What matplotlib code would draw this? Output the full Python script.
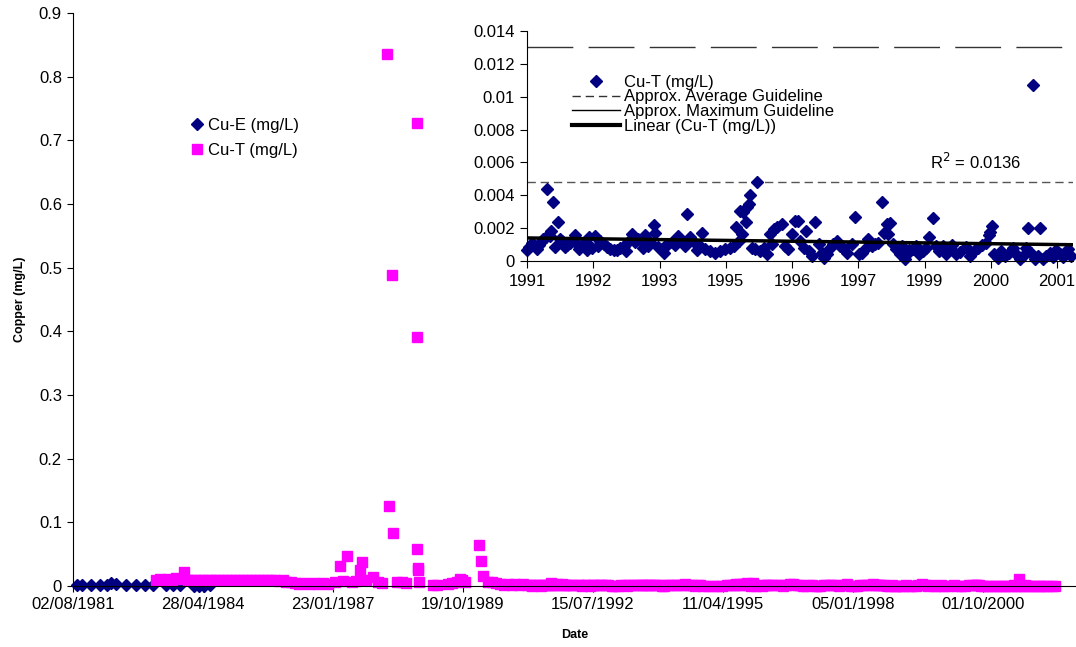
import numpy as np
import pandas as pd
import matplotlib
matplotlib.use("Agg")
import matplotlib.pyplot as plt
import matplotlib.dates as mdates
from matplotlib.lines import Line2D
from matplotlib.ticker import FuncFormatter

plt.rcParams['font.family'] = ['Liberation Sans', 'DejaVu Sans']

# ---- data (dates as decimal years) ----
cu_e_years = [1981.67, 1981.78, 1981.96, 1982.16, 1982.31, 1982.38, 1982.48, 1982.69,
              1982.91, 1983.11, 1983.27, 1983.55, 1983.69, 1983.84, 1984.13, 1984.24,
              1984.35, 1984.46]
cu_e_vals = [0.001, 0.0008, 0.001, 0.0012, 0.002, 0.004, 0.003, 0.0015,
             0.002, 0.0012, 0.0018, 0.001, 0.0015, 0.001, 0.0006, 0.0005,
             0.0004, 0.0008]

cu_t_early_years = [
    1983.33, 1983.42, 1983.50, 1983.58, 1983.67, 1983.75, 1983.83, 1983.92, 1984.00, 1984.08,
    1984.17, 1984.25, 1984.33, 1984.42, 1984.50, 1984.58, 1984.67, 1984.75, 1984.83, 1984.92,
    1985.00, 1985.08, 1985.17, 1985.25, 1985.33, 1985.42, 1985.50, 1985.58, 1985.67, 1985.75,
    1985.83, 1985.92, 1986.00, 1986.08, 1986.17,
    1986.25, 1986.35, 1986.45, 1986.55, 1986.65, 1986.75, 1986.85, 1986.95,
    1987.10, 1987.21, 1987.27, 1987.35, 1987.46, 1987.54, 1987.63, 1987.67, 1987.75, 1987.90,
    1988.01, 1988.09, 1988.20, 1988.24, 1988.30, 1988.32, 1988.41, 1988.51, 1988.60,
    1988.82, 1988.83, 1988.84, 1988.85, 1988.86, 1988.87,
    1989.17, 1989.25, 1989.48, 1989.56, 1989.67, 1989.73, 1989.78, 1989.84,
    1990.13, 1990.18, 1990.22, 1990.32, 1990.41, 1990.49, 1990.58, 1990.66, 1990.74, 1990.82,
    1990.90, 1990.98, 1991.06, 1991.14, 1991.20]
cu_t_early_vals = [
    0.010, 0.011, 0.010, 0.011, 0.010, 0.012, 0.011, 0.022, 0.010, 0.009,
    0.010, 0.009, 0.010, 0.009, 0.010, 0.009, 0.010, 0.009, 0.010, 0.009,
    0.010, 0.009, 0.010, 0.009, 0.010, 0.009, 0.010, 0.009, 0.010, 0.009,
    0.010, 0.008, 0.009, 0.006, 0.007,
    0.004, 0.003, 0.004, 0.003, 0.004, 0.003, 0.004, 0.003,
    0.006, 0.031, 0.008, 0.047, 0.006, 0.008, 0.025, 0.037, 0.010, 0.014,
    0.006, 0.004, 0.835, 0.126, 0.489, 0.083, 0.007, 0.006, 0.005,
    0.728, 0.391, 0.058, 0.0285, 0.025, 0.006,
    0.0015, 0.002, 0.003, 0.004, 0.006, 0.011, 0.009, 0.006,
    0.064, 0.040, 0.015, 0.007, 0.007, 0.004, 0.003, 0.002, 0.003, 0.002,
    0.003, 0.002, 0.003, 0.002, 0.002]

# Cu-T from 1991 onward, in 0.001 mg/L
cu_t_late_years = [
    1991.25, 1991.29, 1991.35, 1991.40, 1991.45, 1991.48, 1991.53, 1991.58, 1991.63, 1991.65,
    1991.72, 1991.74, 1991.78, 1991.82, 1991.88, 1991.92, 1991.95, 1992.01, 1992.05, 1992.12,
    1992.21, 1992.26, 1992.30, 1992.36, 1992.42, 1992.47, 1992.51, 1992.56, 1992.63, 1992.68,
    1992.73, 1992.80, 1992.86, 1992.93, 1993.00, 1993.07, 1993.13, 1993.20, 1993.25, 1993.30,
    1993.37, 1993.44, 1993.50, 1993.57, 1993.60, 1993.64, 1993.69, 1993.74, 1993.81, 1993.84,
    1993.90, 1993.98, 1994.02, 1994.04, 1994.11, 1994.18, 1994.25, 1994.31, 1994.38, 1994.45,
    1994.48, 1994.55, 1994.62, 1994.69, 1994.75, 1994.79,
    1994.85, 1994.96, 1995.06, 1995.16, 1995.26, 1995.36, 1995.43, 1995.48, 1995.53, 1995.55,
    1995.60, 1995.62, 1995.68, 1995.70, 1995.75, 1995.77, 1995.80, 1995.87, 1995.91, 1995.97,
    1996.04, 1996.10, 1996.17, 1996.21, 1996.25, 1996.31, 1996.41, 1996.47, 1996.54, 1996.61,
    1996.68, 1996.74, 1996.78, 1996.85, 1996.90, 1996.95, 1997.02, 1997.08, 1997.15, 1997.22,
    1997.26, 1997.32, 1997.39, 1997.45, 1997.52, 1997.59, 1997.65, 1997.72, 1997.82, 1997.89,
    1997.96, 1998.03, 1998.09, 1998.16, 1998.23, 1998.30, 1998.36, 1998.43, 1998.47, 1998.53,
    1998.55, 1998.60, 1998.65, 1998.72, 1998.79, 1998.84, 1998.89, 1998.94, 1998.99, 1999.06,
    1999.13, 1999.19, 1999.26, 1999.33, 1999.39, 1999.47, 1999.52, 1999.59, 1999.66, 1999.73,
    1999.80, 1999.86, 1999.93, 2000.02, 2000.13, 2000.21, 2000.29, 2000.38, 2000.46, 2000.54,
    2000.61, 2000.63, 2000.67, 2000.71, 2000.78, 2000.85, 2000.92, 2001.00, 2001.08, 2001.15,
    2001.22, 2001.29, 2001.35, 2001.39, 2001.46, 2001.50, 2001.53, 2001.60, 2001.64, 2001.70,
    2001.76, 2001.83, 2001.90, 2001.96, 2002.03, 2002.10, 2002.20, 2002.27]
cu_t_late_vals = [
    0.68, 0.84, 1.10, 0.90, 0.74, 0.98, 1.14, 1.34, 1.44, 4.40,
    1.54, 1.84, 3.60, 0.84, 2.40, 1.34, 1.24, 0.84, 0.98, 1.10,
    1.60, 1.04, 0.74, 0.98, 1.14, 0.70, 1.44, 0.80, 1.54, 0.94,
    1.24, 1.04, 0.84, 0.74, 0.64, 0.64, 0.80, 0.94, 0.60, 1.14,
    1.64, 1.14, 1.34, 1.24, 0.80, 1.60, 0.94, 1.14, 2.20, 1.68,
    0.84, 0.74, 0.50, 0.94, 1.04, 1.14, 1.00, 1.50, 1.14, 0.94,
    2.84, 1.44, 1.14, 0.68, 0.94, 1.68,
    0.71, 0.61, 0.51, 0.61, 0.71, 0.82, 0.92, 2.04, 1.22, 3.06,
    1.63, 2.96, 2.35, 3.30, 3.47, 4.04, 0.82, 0.71, 4.80, 0.61,
    0.82, 0.41, 1.63, 1.02, 1.94, 2.08, 2.24, 0.92, 0.71, 1.63,
    2.45, 2.41, 1.22, 0.82, 1.84, 0.61, 0.31, 2.35, 1.02, 0.51,
    0.16, 0.41, 0.82, 1.02, 1.23, 0.92, 0.82, 0.51, 1.02, 2.65,
    0.41, 0.51, 0.72, 1.33, 0.92, 1.02, 1.12, 3.57, 1.73, 2.24,
    1.67, 2.29, 1.06, 0.76, 0.45, 0.92, 0.14, 0.45, 0.66, 0.71,
    0.91, 0.40, 0.61, 0.77, 1.47, 2.59, 0.91, 0.61, 0.91, 0.40,
    0.71, 0.97, 0.40, 0.57, 0.85, 0.30, 0.61, 0.77, 0.97, 1.12,
    1.57, 1.78, 2.12, 0.40, 0.20, 0.61, 0.30, 0.51, 0.77, 0.40,
    0.15, 0.30, 0.77, 1.98, 0.51, 10.70, 0.14, 0.30, 1.98, 0.14,
    0.30, 0.51, 0.25, 0.65, 0.40, 0.25, 0.71, 0.30]

avg_guideline = 0.0048
max_guideline = 0.013
r2_label = "R$^2$ = 0.0136"

navy = '#000080'
magenta = '#FF00FF'


def to_dates(years):
    out = []
    for y in years:
        yi = int(y)
        out.append(pd.Timestamp(yi, 1, 1) + pd.Timedelta(days=(y - yi) * 365.25))
    return pd.DatetimeIndex(out)


cu_e_dates = to_dates(cu_e_years)
late_mgl = np.array(cu_t_late_vals) / 1000.0
cu_t_dates = to_dates(cu_t_early_years + cu_t_late_years)
cu_t_vals = np.concatenate([cu_t_early_vals, late_mgl])
late_dates = to_dates(cu_t_late_years)

W, H = 1076, 647
fig = plt.figure(figsize=(W / 100, H / 100), dpi=100)

# ---- main chart ----
ax = fig.add_axes([73 / W, 61 / H, 1003 / W, 573 / H])
ax.plot(cu_e_dates, cu_e_vals, 'D', color=navy, ms=6, ls='none', clip_on=False,
        label='Cu-E (mg/L)')
ax.plot(cu_t_dates, cu_t_vals, 's', color=magenta, ms=7, ls='none', clip_on=False,
        label='Cu-T (mg/L)')

main_start = pd.Timestamp('1981-08-02')
ax.set_xlim(main_start, main_start + pd.Timedelta(days=7715))
ax.set_ylim(0, 0.9)
ax.set_yticks(np.arange(0, 0.91, 0.1))
ax.yaxis.set_major_formatter(FuncFormatter(lambda v, p: f'{v:g}'))
ax.set_xticks(mdates.date2num(pd.date_range(main_start, periods=8, freq='1000D')))
ax.xaxis.set_major_formatter(mdates.DateFormatter('%d/%m/%Y'))
ax.tick_params(direction='out', length=4, labelsize=12, color='black', pad=4)
for s in ['top', 'right']:
    ax.spines[s].set_visible(False)
ax.set_ylabel('Copper (mg/L)', fontsize=9, fontweight='bold')
ax.set_xlabel('Date', fontsize=9, fontweight='bold')
ax.yaxis.set_label_coords(-0.047, 0.5)
ax.xaxis.set_label_coords(0.5, -0.075)
ax.legend(loc='upper left', bbox_to_anchor=(190 / W, 1 - 118 / H),
          bbox_transform=fig.transFigure, frameon=False, fontsize=12,
          handlelength=0.8, handletextpad=0.3, labelspacing=0.62,
          borderpad=0, borderaxespad=0)

# ---- inset chart ----
axi = fig.add_axes([527 / W, 1 - 261 / H, 546 / W, 230 / H])
axi.set_facecolor('white')
inset_start = pd.Timestamp('1991-04-01')
axi.set_xlim(inset_start, inset_start + pd.Timedelta(days=4038))
axi.set_ylim(0, 0.014)
axi.set_yticks(np.arange(0, 0.01401, 0.002))
axi.yaxis.set_major_formatter(FuncFormatter(lambda v, p: f'{v:g}'))
axi.set_xticks(mdates.date2num(pd.date_range(inset_start, periods=9, freq='490D')))
axi.xaxis.set_major_formatter(mdates.DateFormatter('%Y'))
axi.tick_params(direction='out', length=5, labelsize=12, pad=4)
for s in ['top', 'right']:
    axi.spines[s].set_visible(False)

axi.axhline(max_guideline, color='#333333', lw=1, dashes=(33, 11))
axi.axhline(avg_guideline, color='#555555', lw=1, dashes=(6, 3.5))
axi.plot(late_dates, late_mgl, 'D', color=navy, ms=6.5, ls='none', clip_on=False)

coef = np.polyfit(cu_t_late_years, late_mgl, 1)
trend_years = [cu_t_late_years[0], cu_t_late_years[-1]]
axi.plot(to_dates(trend_years), np.polyval(coef, trend_years), color='black', lw=2.5)

axi.text(to_dates([1999.41])[0], 0.0060, r2_label, fontsize=12, ha='left', va='center')

handles = [Line2D([], [], marker='D', color=navy, ls='none', ms=6.5),
           Line2D([], [], color='#333333', lw=1, dashes=(6, 3.5)),
           Line2D([], [], color='black', lw=1),
           Line2D([], [], color='black', lw=3)]
labels = ['Cu-T (mg/L)', 'Approx. Average Guideline', 'Approx. Maximum Guideline',
          'Linear (Cu-T (mg/L))']
axi.legend(handles, labels, loc='upper left', bbox_to_anchor=(572 / W, 1 - 75 / H),
           bbox_transform=fig.transFigure, frameon=False, fontsize=12,
           handlelength=2.9, handletextpad=0.2, labelspacing=-0.03,
           borderpad=0, borderaxespad=0)

fig.savefig('out.png', dpi=100)
